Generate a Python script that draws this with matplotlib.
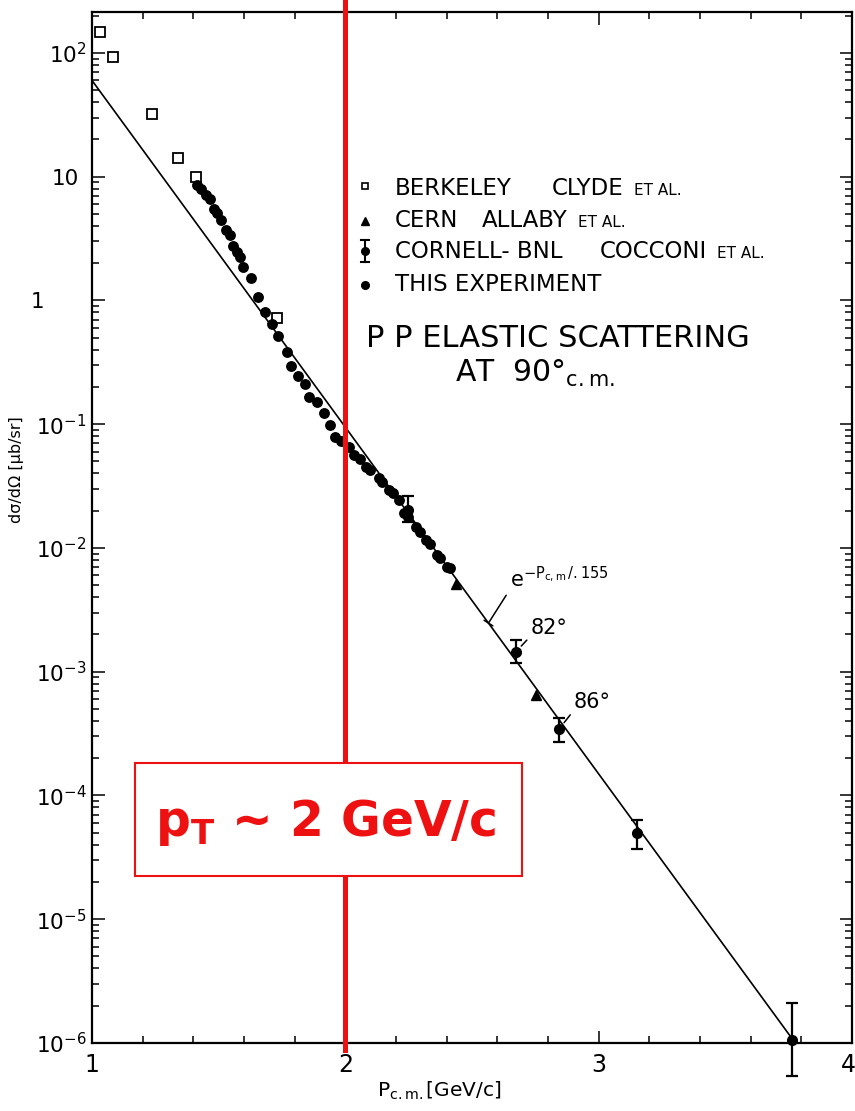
import numpy as np
import matplotlib
matplotlib.use("Agg")
import matplotlib.pyplot as plt
from matplotlib.patches import Rectangle
from matplotlib.ticker import FixedLocator, NullFormatter, LogLocator
from matplotlib.transforms import ScaledTranslation

plt.rcParams['font.family'] = ['DejaVu Sans']
plt.rcParams['mathtext.default'] = 'regular'

# ---- data: pp elastic scattering at 90 deg c.m. ----
berkeley_p = [1.032, 1.083, 1.237, 1.340, 1.411, 1.731]
berkeley_xs = [148, 93, 32, 14.2, 10.0, 0.72]

this_p = [1.414, 1.430, 1.451, 1.464, 1.482, 1.495, 1.509, 1.530, 1.543, 1.556,
          1.572, 1.585, 1.598, 1.628, 1.657, 1.684, 1.710, 1.736, 1.770, 1.785,
          1.815, 1.842, 1.855, 1.888, 1.914, 1.938, 1.960, 1.983, 2.013, 2.033,
          2.057, 2.083, 2.099, 2.132, 2.145, 2.171, 2.188, 2.211, 2.230, 2.246,
          2.277, 2.294, 2.320, 2.333, 2.360, 2.375, 2.402, 2.415]
this_xs = [8.6, 7.9, 7.1, 6.6, 5.5, 5.1, 4.5, 3.7, 3.4, 2.75,
           2.48, 2.23, 1.85, 1.51, 1.07, 0.80, 0.65, 0.52, 0.385, 0.296,
           0.245, 0.211, 0.167, 0.152, 0.123, 0.0987, 0.0785, 0.0736, 0.0659, 0.0565,
           0.0521, 0.0454, 0.0427, 0.0366, 0.0343, 0.0294, 0.0277, 0.0244, 0.0193, 0.0179,
           0.0149, 0.0135, 0.0115, 0.0108, 0.00877, 0.00825, 0.00707, 0.00686]

cern_p = [2.435, 2.751]
cern_xs = [0.00512, 6.5e-4]

cornell_p = [2.246, 2.672, 2.843, 3.150, 3.763]
cornell_xs = [0.0203, 1.44e-3, 3.43e-4, 4.96e-5, 1.06e-6]
cornell_hi = [0.0263, 1.81e-3, 4.2e-4, 6.3e-5, 2.1e-6]
cornell_lo = [0.0162, 1.18e-3, 2.72e-4, 3.7e-5, 5.4e-7]

# exponential fall-off  A * exp(-P / 0.155)
fit_slope = 0.155
fit_value_at_1 = 60.0
fit_range = [1.0, 3.763]

x_ticks = [1, 2, 3, 4]
x_ticklabels = ['1', '2', '3', '4']
y_ticks = [1e-6, 1e-5, 1e-4, 1e-3, 1e-2, 1e-1, 1, 10, 100]
y_ticklabels = ['$10^{-6}$', '$10^{-5}$', '$10^{-4}$', '$10^{-3}$', '$10^{-2}$',
                '$10^{-1}$', '1', '10', '$10^{2}$']

legend_rows = [
    ('BERKELEY', 'CLYDE', 'ET AL.'),
    ('CERN', 'ALLABY', 'ET AL.'),
    ('CORNELL- BNL', 'COCCONI', 'ET AL.'),
    ('THIS EXPERIMENT', '', ''),
]

# ---- figure ----
W, H = 855, 1111
fig = plt.figure(figsize=(W / 100, H / 100), dpi=100)
L, R, T, B = 92, 852, 12, 1043
ax = fig.add_axes([L / W, 1 - B / H, (R - L) / W, (B - T) / H])


def fx(x, y):
    """pixel position -> figure fraction"""
    return x / W, 1 - y / H


def axc(x, y):
    """pixel position -> axes fraction"""
    return (x - L) / (R - L), (B - y) / (B - T)


ax.set_yscale('log')
ax.set_xlim(1, 4)
ax.set_ylim(1e-6, 10 ** 2.331)

# fit line
pp = np.linspace(fit_range[0], fit_range[1], 200)
fit = fit_value_at_1 * np.exp(-(pp - 1.0) / fit_slope)
ax.plot(pp, fit, color='black', lw=1.2, zorder=2)

# data sets
ax.plot(berkeley_p, berkeley_xs, ls='none', marker='s', ms=6.5, mfc='white',
        mec='black', mew=1.3, zorder=3)
ax.plot(this_p, this_xs, ls='none', marker='o', ms=6.8, color='black', zorder=3)
ax.plot(cern_p, cern_xs, ls='none', marker='^', ms=6.5, color='black', zorder=3)
yerr = [np.array(cornell_xs) - np.array(cornell_lo),
        np.array(cornell_hi) - np.array(cornell_xs)]
eb = ax.errorbar(cornell_p, cornell_xs, yerr=yerr, fmt='o', ms=7, color='black',
                 ecolor='black', elinewidth=1.6, capsize=4, capthick=1.6, zorder=3)
for art in list(eb.lines[1]) + list(eb.lines[2]):
    art.set_clip_on(False)
eb.lines[0].set_clip_on(False)

# ticks
ax.xaxis.set_major_locator(FixedLocator(x_ticks))
ax.xaxis.set_minor_locator(FixedLocator(np.arange(1.2, 4.0, 0.2)))
ax.set_xticklabels(x_ticklabels)
ax.yaxis.set_major_locator(FixedLocator(y_ticks))
ax.yaxis.set_minor_locator(LogLocator(base=10, subs=np.arange(2, 10)))
ax.yaxis.set_minor_formatter(NullFormatter())
ax.set_yticklabels(y_ticklabels)
ax.tick_params(which='both', direction='in', top=True, right=True,
               colors='black', width=1.1)
ax.tick_params(which='major', length=9)
ax.tick_params(which='minor', length=5)
ax.tick_params(axis='x', which='major', pad=7, labelsize=17)
ax.tick_params(axis='y', which='major', pad=4, labelsize=15.5)
for s in ax.spines.values():
    s.set_linewidth(1.6)

# hand-lettered tick labels sit a little off the common right edge
y_label_shift = {'1': -42, '10': -8}
for tick, lab in zip(ax.yaxis.get_major_ticks(), y_ticklabels):
    dx = y_label_shift.get(lab, 0)
    if dx:
        tick.label1.set_transform(tick.label1.get_transform() +
                                  ScaledTranslation(dx / 100, 0, fig.dpi_scale_trans))
xt = ax.xaxis.get_major_ticks()[-1]
xt.label1.set_transform(xt.label1.get_transform() +
                        ScaledTranslation(-4 / 100, 0, fig.dpi_scale_trans))

# axis labels
fig.text(*fx(17, 470), 'dσ/dΩ [μb/sr]', rotation=90, ha='center', va='center',
         fontsize=11.5)
fig.text(*fx(377, 1097), 'P$_{c.m.}$[GeV/c]', ha='left', va='baseline',
         fontsize=14.5)

# legend
legend_base = [195, 227, 258, 291]
col2_x = [552, 482, 600]
for i, (a, b, c) in enumerate(legend_rows):
    fig.text(*fx(395, legend_base[i]), a, ha='left', va='baseline', fontsize=16.5)
    if b:
        t2 = fig.text(*fx(col2_x[i], legend_base[i]), b, ha='left', va='baseline',
                      fontsize=16.5)
        # small-caps "ET AL." follows on the same baseline
        ax.annotate(c, xy=(1, 0), xycoords=t2, xytext=(10, 5),
                    textcoords='offset pixels', ha='left', va='baseline',
                    fontsize=11)

mk = dict(transform=ax.transAxes, clip_on=False, ls='none', color='black')
ax.plot(*axc(365, 186), marker='s', ms=5, mfc='white', mec='black', mew=1.2, **mk)
ax.plot(*axc(365, 221), marker='^', ms=5.5, **mk)
ax.plot(*axc(365, 251), marker='o', ms=5.5, **mk)
x0, y0 = axc(365, 240)
x1, y1 = axc(365, 262)
ax.plot([x0, x1], [y0, y1], transform=ax.transAxes, clip_on=False, color='black',
        lw=1.5)
cx0, _ = axc(361, 0)
cx1, _ = axc(369, 0)
for yy in (y0, y1):
    ax.plot([cx0, cx1], [yy, yy], transform=ax.transAxes, clip_on=False,
            color='black', lw=1.5)
ax.plot(*axc(365, 285), marker='o', ms=5.5, **mk)

fig.text(*fx(366, 347), 'P P ELASTIC SCATTERING', ha='left', va='baseline',
         fontsize=22)
fig.text(*fx(455, 382), 'AT  90°$_{c.m.}$', ha='left', va='baseline',
         fontsize=21.5)

# annotations on the curve
fit_at = lambda p: fit_value_at_1 * np.exp(-(p - 1.0) / fit_slope)
ax.annotate('e$^{-P_{c,m}\\,/.155}$', xy=(2.565, fit_at(2.565)),
            xytext=(22, 32), textcoords='offset pixels', ha='left', va='bottom',
            fontsize=15,
            arrowprops=dict(arrowstyle='-[,widthB=0.25,lengthB=0', color='black',
                            lw=1.1, shrinkA=2, shrinkB=0, relpos=(0.0, 0.1)))
ax.annotate('82°', xy=(cornell_p[1], cornell_xs[1]), xytext=(15, 14),
            textcoords='offset pixels', ha='left', va='bottom', fontsize=15,
            arrowprops=dict(arrowstyle='-', color='black', lw=1.1, shrinkA=1,
                            shrinkB=6, relpos=(0.0, 0.1)))
ax.annotate('86°', xy=(cornell_p[2], cornell_xs[2]), xytext=(15, 17),
            textcoords='offset pixels', ha='left', va='bottom', fontsize=15,
            arrowprops=dict(arrowstyle='-', color='black', lw=1.1, shrinkA=1,
                            shrinkB=6, relpos=(0.0, 0.1)))

# highlight of the 2 GeV/c transverse momentum region
red = '#ee1111'
ax.axvline(2.0, ymin=-0.007, ymax=1.012, color=red, lw=3.6, clip_on=False,
           zorder=5)
bx0, by0 = fx(135, 876)
bx1, by1 = fx(522, 763)
fig.add_artist(Rectangle((bx0, by0), bx1 - bx0, by1 - by0, transform=fig.transFigure,
                         facecolor='white', edgecolor=red, lw=1.5, zorder=6))
fig.text(*fx(326, 822), 'p$_T$ ~ 2 GeV/c', ha='center', va='center',
         fontsize=35, fontweight='bold', color=red, zorder=7)

fig.savefig('out.png', dpi=100)
